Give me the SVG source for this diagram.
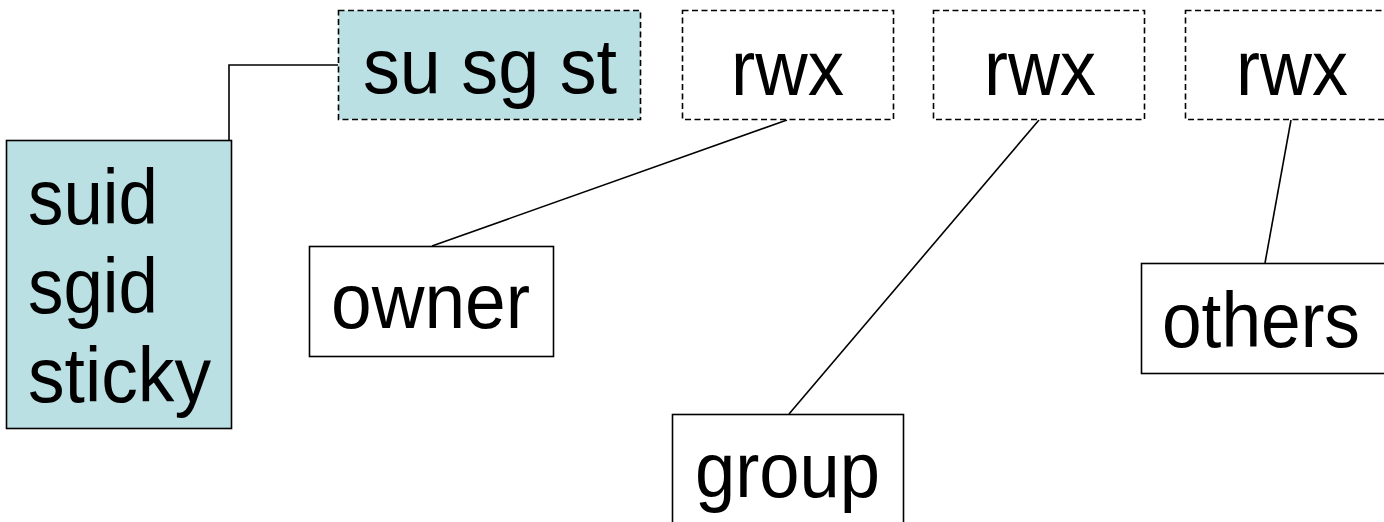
<svg xmlns="http://www.w3.org/2000/svg" width="1384" height="522" viewBox="0 0 1384 522">
<style>
.box{fill:#ffffff;stroke:#000;stroke-width:1.6}
.fill{fill:#BAE0E3}
.dash{stroke-dasharray:6,3.5}
.t{font-family:"Liberation Sans",Arial,sans-serif;font-size:78px;fill:#000}
.c{fill:none;stroke:#000;stroke-width:1.6}
</style>
<rect width="1384" height="522" fill="#fff"/>
<g id="connectors">
<polyline class="c" points="338,65 229,65 229,140"/>
<line class="c" x1="787" y1="120" x2="432" y2="246"/>
<line class="c" x1="1039" y1="120" x2="789" y2="414"/>
<line class="c" x1="1291" y1="120" x2="1265" y2="263"/>
</g>
<g id="node-susgst">
<rect class="box fill dash" x="338.5" y="10.5" width="302" height="109"/>
<text class="t" x="363" y="93" textLength="254" lengthAdjust="spacingAndGlyphs">su sg st</text>
</g>
<g id="node-rwx1">
<rect class="box dash" x="682.5" y="10.5" width="211" height="109"/>
<text class="t" x="731" y="95" textLength="113" lengthAdjust="spacingAndGlyphs">rwx</text>
</g>
<g id="node-rwx2">
<rect class="box dash" x="933.5" y="10.5" width="211" height="109"/>
<text class="t" x="984" y="95" textLength="112" lengthAdjust="spacingAndGlyphs">rwx</text>
</g>
<g id="node-rwx3">
<rect class="box dash" x="1185.5" y="10.5" width="211" height="109"/>
<text class="t" x="1236" y="95" textLength="112" lengthAdjust="spacingAndGlyphs">rwx</text>
</g>
<g id="node-special">
<rect class="box fill" x="6.5" y="140.5" width="225" height="288"/>
<text class="t" x="28" y="224" textLength="130" lengthAdjust="spacingAndGlyphs">suid</text>
<text class="t" x="28" y="313" textLength="130" lengthAdjust="spacingAndGlyphs">sgid</text>
<text class="t" x="28" y="402" textLength="183" lengthAdjust="spacingAndGlyphs">sticky</text>
</g>
<g id="node-owner">
<rect class="box" x="309.5" y="246.5" width="244" height="110"/>
<text class="t" x="331" y="328" textLength="199" lengthAdjust="spacingAndGlyphs">owner</text>
</g>
<g id="node-group">
<rect class="box" x="672.5" y="414.5" width="231" height="120"/>
<text class="t" x="695" y="497" textLength="185" lengthAdjust="spacingAndGlyphs">group</text>
</g>
<g id="node-others">
<rect class="box" x="1141.5" y="263.5" width="260" height="110"/>
<text class="t" x="1162" y="347" textLength="198" lengthAdjust="spacingAndGlyphs">others</text>
</g>
</svg>
